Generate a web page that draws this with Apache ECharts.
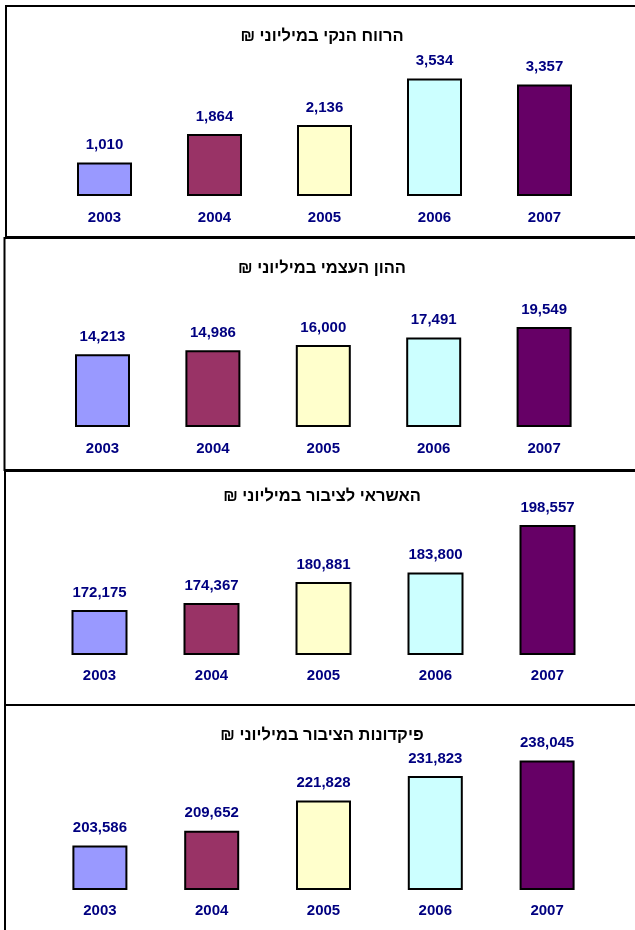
<!DOCTYPE html>
<html>
<head>
<meta charset="utf-8">
<script src="https://cdn.jsdelivr.net/npm/echarts@6/dist/echarts.min.js"></script>
<style>
html,body{margin:0;padding:0;background:#fff;}
#chart{width:635px;height:930px;}
</style>
</head>
<body>
<div id="chart"></div>
<script>
const years = ['2003', '2004', '2005', '2006', '2007'];
const titles = [
  'הרווח הנקי במיליוני ₪',
  'ההון העצמי במיליוני ₪',
  'האשראי לציבור במיליוני ₪',
  'פיקדונות הציבור במיליוני ₪'
];
const netProfit = [1010, 1864, 2136, 3534, 3357];
const equity = [14213, 14986, 16000, 17491, 19549];
const publicCredit = [172175, 174367, 180881, 183800, 198557];
const publicDeposits = [203586, 209652, 221828, 231823, 238045];
const seriesData = [netProfit, equity, publicCredit, publicDeposits];
const barColors = ['#9999FF', '#993366', '#FFFFCC', '#CCFFFF', '#660066'];

// layout per panel
const panels = [
  {left: 49.5, width: 550, top: 63, bottom: 196, min: 0, max: 4000, barWidth: 55, titleY: 35, box: {x: 6, y: 6, h: 231}},
  {left: 47.3, width: 552, top: 299, bottom: 427, min: 0, max: 25000, barWidth: 55, titleY: 267, box: {x: 4.5, y: 238, h: 232}},
  {left: 43.5, width: 560, top: 520.3, bottom: 654, min: 158500, max: 200000, barWidth: 56, titleY: 495, box: {x: 5, y: 471, h: 234}},
  {left: 44, width: 559, top: 755.8, bottom: 889, min: 186000, max: 240000, barWidth: 55, titleY: 734, box: {x: 5, y: 705, h: 300}}
];

const FONT = '"Liberation Sans", Arial, "DejaVu Sans", sans-serif';
const NAVY = '#000080';
const fmt = v => String(v).replace(/\B(?=(\d{3})+(?!\d))/g, ',');

const option = {
  backgroundColor: '#fff',
  animation: false,
  title: panels.map((p, i) => ({
    text: titles[i] + '\u200F',
    left: 322,
    top: p.titleY - 7,
    textAlign: 'center',
    padding: 0,
    textStyle: {fontFamily: FONT, fontSize: 16.5, fontWeight: 'bold', color: '#000'}
  })),
  grid: panels.map(p => ({left: p.left, width: p.width, top: p.top, height: p.bottom - p.top, containLabel: false})),
  xAxis: panels.map((p, i) => ({
    type: 'category', gridIndex: i, data: years,
    axisLine: {show: false}, axisTick: {show: false}, splitLine: {show: false},
    axisLabel: {margin: 14, fontFamily: FONT, fontSize: 15, fontWeight: 'bold', color: NAVY}
  })),
  yAxis: panels.map((p, i) => ({
    type: 'value', gridIndex: i, min: p.min, max: p.max, show: false, splitLine: {show: false}
  })),
  series: panels.map((p, i) => ({
    type: 'bar', xAxisIndex: i, yAxisIndex: i,
    data: seriesData[i].map((v, j) => ({value: v, itemStyle: {color: barColors[j]}})),
    barWidth: p.barWidth,
    itemStyle: {borderColor: '#000', borderWidth: 2},
    label: {
      show: true, position: 'top', distance: 10,
      formatter: d => fmt(d.value),
      fontFamily: FONT, fontSize: 15, fontWeight: 'bold', color: NAVY
    }
  })),
  graphic: panels.map(p => ({
    type: 'rect', silent: true, z: 100,
    shape: {x: p.box.x, y: p.box.y, width: 700, height: p.box.h},
    style: {fill: 'none', stroke: '#000', lineWidth: 2}
  }))
};

const chart = echarts.init(document.getElementById('chart'), null, {renderer: 'canvas'});
chart.setOption(option);
</script>
</body>
</html>
